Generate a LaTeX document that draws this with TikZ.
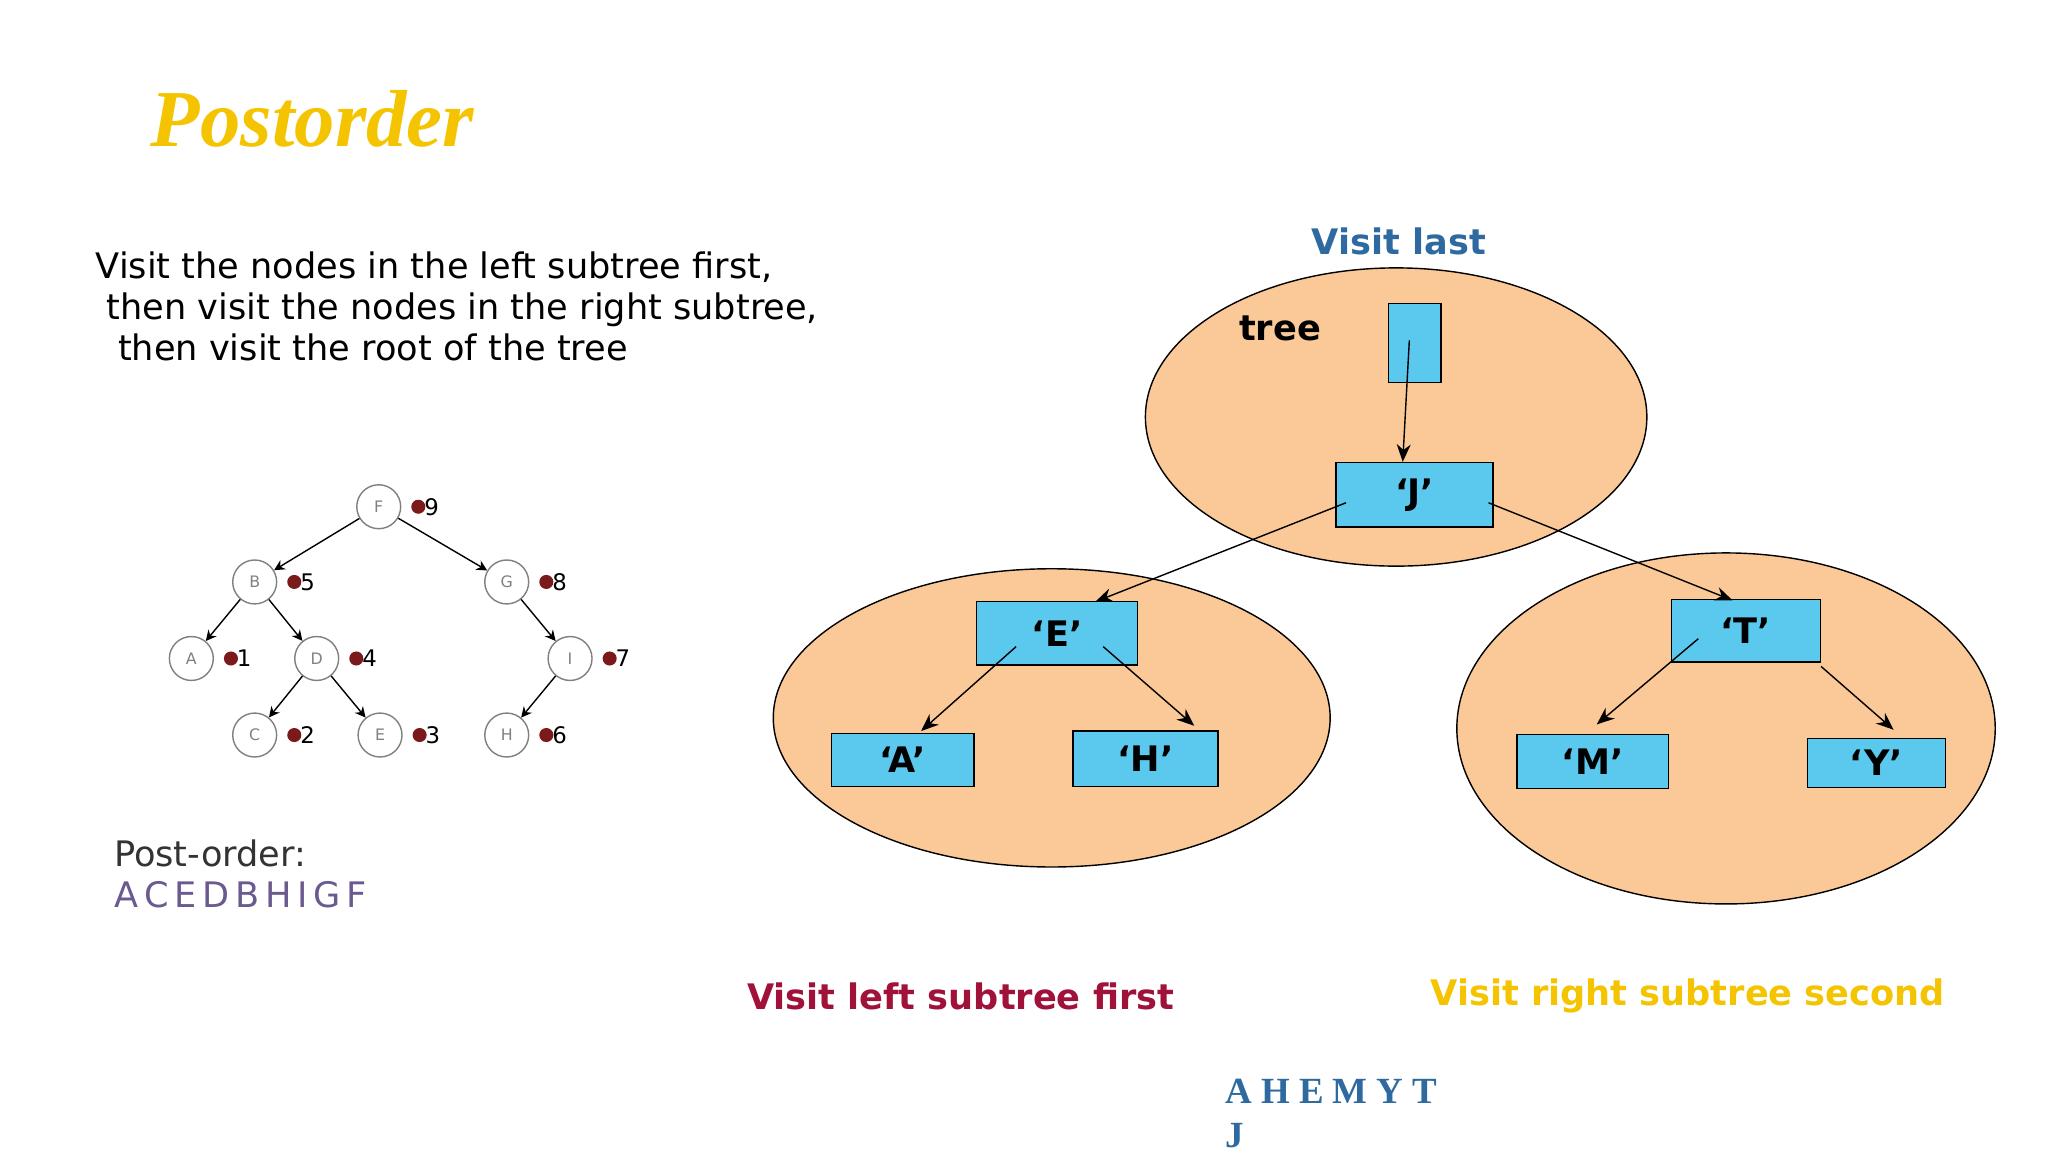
\documentclass[tikz,border=0pt]{standalone}
\usepackage{fontspec}
\setmainfont{DejaVu Sans}
\newfontfamily\serifb{Liberation Serif}
\usetikzlibrary{arrows.meta}
\definecolor{gold}{HTML}{F5C400}
\definecolor{peach}{HTML}{FBC998}
\definecolor{cyanb}{HTML}{5BC8EE}
\definecolor{vblue}{HTML}{2E6AA0}
\definecolor{vred}{HTML}{A0123A}
\definecolor{dred}{HTML}{7A1A1A}
\definecolor{purp}{HTML}{6A5A90}
\begin{document}
\begin{tikzpicture}[x=0.0132cm,y=-0.0132cm,
  ell/.style={draw,fill=peach},
  box/.style={draw,fill=cyanb,font=\bfseries\fontsize{10}{12}\selectfont},
  arr/.style={-{Stealth[length=5pt,width=4pt]},thin},
  cn/.style={draw=gray,circle,fill=white,minimum size=12.5pt,inner sep=0pt,font=\fontsize{4.5}{5}\selectfont,text=gray},
  num/.style={font=\fontsize{6.5}{7}\selectfont,inner sep=0pt,anchor=west},
  sarr/.style={-{Stealth[length=3pt,width=3pt]},thin}]
\useasboundingbox (0,0) rectangle (1552,873);
\fill[white] (0,0) rectangle (1552,873);
\node[anchor=west,text=gold,font=\serifb\bfseries\itshape\fontsize{23}{26}\selectfont] (title) at (105,90) {Postorder};
\node[anchor=north west,align=left,font=\fontsize{10}{11.7}\selectfont,inner sep=0pt] (desc) at (72,190) {Visit the nodes in the left subtree first,\\\ then visit the nodes in the right subtree,\\\ \ then visit the root of the tree};
% small tree
\foreach \n/\x/\y/\k in {F/287/384/9,B/193/441/5,G/384/441/8,A/145/499/1,D/240/499/4,I/432/499/7,C/193/557/2,E/288/557/3,H/384/557/6}{
  \node[cn] (s\n) at (\x,\y) {\n};
  \fill[dred] (\x+30,\y) circle (2pt);
  \node[num] (k\n) at (\x+34,\y) {\k};
}
\draw[sarr] (sF) -- (sB); \draw[sarr] (sF) -- (sG);
\draw[sarr] (sB) -- (sA); \draw[sarr] (sB) -- (sD);
\draw[sarr] (sD) -- (sC); \draw[sarr] (sD) -- (sE);
\draw[sarr] (sG) -- (sI); \draw[sarr] (sI) -- (sH);
\node[anchor=west,font=\fontsize{10}{12}\selectfont,text=black!80,inner sep=0pt] (po) at (86,647) {Post-order:};
\node[anchor=west,font=\fontsize{10}{12}\selectfont,text=purp,inner sep=0pt] (pol) at (86,678) {A\,C\,E\,D\,B\,H\,I\,G\,F};
% ellipses
\draw[ell] (1058,316) ellipse [x radius=190,y radius=113];
\draw[ell] (797,544) ellipse [x radius=211,y radius=113];
\draw[ell] (1308,552) ellipse [x radius=204,y radius=133];
% boxes
\node[box,minimum width=40*0.0132cm,minimum height=60*0.0132cm] (tr) at (1072,260) {};
\node[box,minimum width=119*0.0132cm,minimum height=49*0.0132cm] (J) at (1072,375) {‘J’};
\node[box,minimum width=122*0.0132cm,minimum height=48*0.0132cm] (E) at (801,480) {‘E’};
\node[box,minimum width=108*0.0132cm,minimum height=40*0.0132cm] (A) at (684,576) {‘A’};
\node[box,minimum width=110*0.0132cm,minimum height=42*0.0132cm] (H) at (868,575) {‘H’};
\node[box,minimum width=113*0.0132cm,minimum height=47*0.0132cm] (T) at (1323,478) {‘T’};
\node[box,minimum width=115*0.0132cm,minimum height=41*0.0132cm] (M) at (1207,577) {‘M’};
\node[box,minimum width=105*0.0132cm,minimum height=37*0.0132cm] (Y) at (1422,578) {‘Y’};
\coordinate (t0) at (1068,258);
\coordinate (j1) at (1020,381); \coordinate (j2) at (1128,381);
\coordinate (e1) at (770,490); \coordinate (e2) at (836,490);
\coordinate (t1) at (1287,484); \coordinate (t2) at (1380,505);
\draw[arr] (t0) -- (J.north -| 1063,0);
\draw[arr] (j1) -- (830,456);
\draw[arr] (j2) -- (1313,455);
\draw[arr] (e1) -- (698,554);
\draw[arr] (e2) -- (905,550);
\draw[arr] (t1) -- (1210,549);
\draw[arr] (t2) -- (1435,553);
\node[font=\bfseries\fontsize{10}{12}\selectfont] (treel) at (970,249) {tree};
\node[font=\bfseries\fontsize{10}{12}\selectfont,text=vblue] (vl) at (1060,183) {Visit last};
\node[font=\bfseries\fontsize{10}{12}\selectfont,text=vred] (vls) at (728,755) {Visit left subtree first};
\node[font=\bfseries\fontsize{10}{12}\selectfont,text=gold] (vrs) at (1279,755) {Visit right subtree second};
\node[anchor=north west,align=left,inner sep=0pt,text=vblue,font=\serifb\bfseries\fontsize{10.5}{12.5}\selectfont] (res) at (928,817) {A H E M Y T\\J};
\end{tikzpicture}
\end{document}
